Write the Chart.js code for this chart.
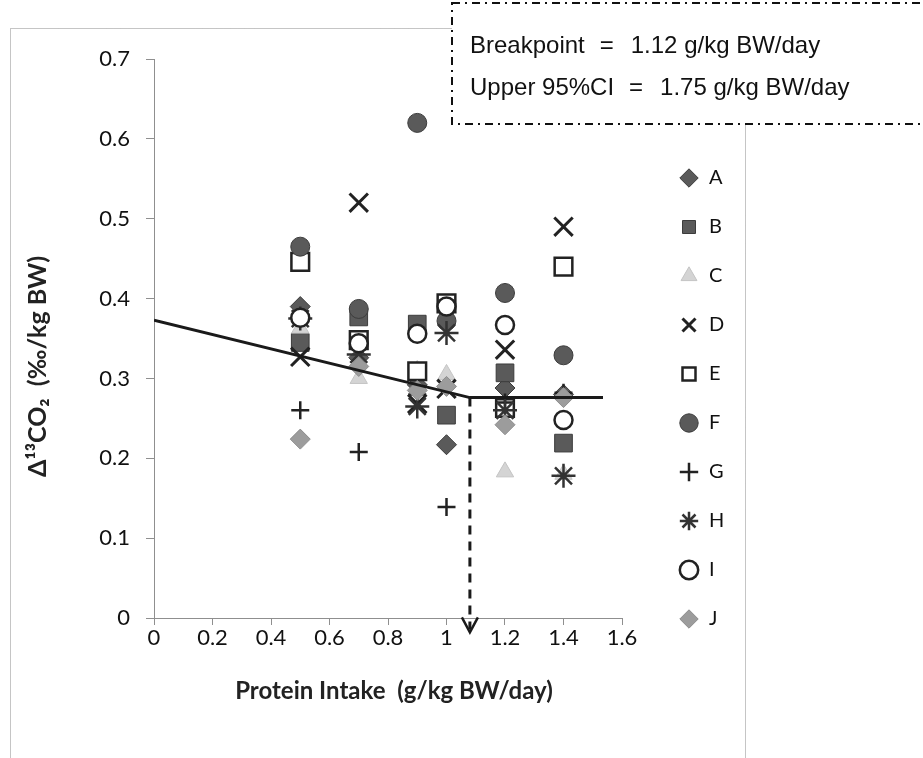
<!DOCTYPE html>
<html>
<head>
<meta charset="utf-8">
<script src="https://cdn.jsdelivr.net/npm/chart.js@4.4.0/dist/chart.umd.min.js"></script>
<style>
  html, body { margin: 0; padding: 0; background: #fff; }
  #wrap { position: relative; width: 923px; height: 758px; }
</style>
</head>
<body>
<div id="wrap"><canvas id="co2Chart"></canvas></div>
<script>
// protein intake levels (g/kg BW/day)
const intake = [0.5, 0.7, 0.9, 1.0, 1.2, 1.4];

// delta 13CO2 per subject
const subjA = [0.390, 0.326, 0.292, 0.217, 0.288, 0.280];
const subjB = [0.345, 0.377, 0.368, 0.254, 0.307, 0.219];
const subjC = [0.363, 0.300, 0.310, 0.305, 0.183, 0.180];
const subjD = [0.327, 0.520, 0.268, 0.287, 0.336, 0.490];
const subjE = [0.446, 0.348, 0.309, 0.394, 0.263, 0.440];
const subjF = [0.465, 0.387, 0.620, 0.372, 0.407, 0.329];
const subjG = [0.260, 0.208, 0.280, 0.139, 0.270, 0.282];
const subjH = [0.375, 0.330, 0.265, 0.357, 0.260, 0.178];
const subjI = [0.376, 0.344, 0.356, 0.390, 0.367, 0.248];
const subjJ = [0.224, 0.315, 0.285, 0.290, 0.242, 0.276];

const subjNames = ['A', 'B', 'C', 'D', 'E', 'F', 'G', 'H', 'I', 'J'];
const subjValues = [subjA, subjB, subjC, subjD, subjE, subjF, subjG, subjH, subjI, subjJ];

// broken-line fit
const fitX = [0, 1.08, 1.535];
const fitY = [0.373, 0.276, 0.276];
const breakX = 1.08;
const arrowTipY = -0.018;

const xTickLabels = ['0', '0.2', '0.4', '0.6', '0.8', '1', '1.2', '1.4', '1.6'];
const yTickLabels = ['0', '0.1', '0.2', '0.3', '0.4', '0.5', '0.6', '0.7'];

const noteLabels = ['Breakpoint', 'Upper 95%CI'];
const noteValues = ['1.12 g/kg BW/day', '1.75 g/kg BW/day'];

// marker look for each subject
const dark = '#5a5a5a', darkEdge = '#3c3c3c';
const markers = [
    {pointStyle: 'rectRot', pointRadius: 10, backgroundColor: dark, borderColor: darkEdge, borderWidth: 1},
    {pointStyle: 'rect', pointRadius: 12.5, backgroundColor: dark, borderColor: darkEdge, borderWidth: 1},
    {pointStyle: 'triangle', pointRadius: 10, backgroundColor: '#d4d4d4', borderColor: '#c4c4c4', borderWidth: 1},
    {pointStyle: 'crossRot', pointRadius: 13, backgroundColor: '#222', borderColor: '#222', borderWidth: 3},
    {pointStyle: 'rect', pointRadius: 12.5, backgroundColor: '#fff', borderColor: '#222', borderWidth: 2.5},
    {pointStyle: 'circle', pointRadius: 9.5, backgroundColor: dark, borderColor: darkEdge, borderWidth: 1},
    {pointStyle: 'cross', pointRadius: 9, backgroundColor: '#222', borderColor: '#222', borderWidth: 2.5},
    {pointStyle: 'star', pointRadius: 12, backgroundColor: '#333', borderColor: '#333', borderWidth: 2.5},
    {pointStyle: 'circle', pointRadius: 9, backgroundColor: '#fff', borderColor: '#222', borderWidth: 2.5},
    {pointStyle: 'rectRot', pointRadius: 10, backgroundColor: '#9c9c9c', borderColor: '#8c8c8c', borderWidth: 1}
];

const datasets = subjNames.map((name, i) => Object.assign({
    label: name,
    data: intake.map((x, j) => ({x: x, y: subjValues[i][j]})),
    pointHoverRadius: markers[i].pointRadius,
    order: 20 - i
}, markers[i]));

datasets.push({
    label: '',
    data: fitX.map((x, j) => ({x: x, y: fitY[j]})),
    showLine: true,
    borderColor: '#1a1a1a',
    borderWidth: 3,
    pointRadius: 0,
    order: 1
});
datasets.push({
    label: '',
    data: [{x: breakX, y: fitY[1]}, {x: breakX, y: arrowTipY + 0.004}],
    showLine: true,
    borderColor: '#1a1a1a',
    borderWidth: 3,
    borderDash: [9, 7],
    pointRadius: 0,
    clip: false,
    order: 0
});

const axisGrey = '#8f8f8f';
const tickFont = {family: 'Lato', size: 22};

const framePlugin = {
    id: 'frame',
    beforeLayout(chart) {
        // wide legend column so the plot ends where the original does
        const lg = chart.legend;
        if (lg && !lg._wide) {
            const fit = lg.fit;
            lg.fit = function() { fit.call(this); this.width = 301; };
            lg._wide = true;
        }
    },
    afterLayout(chart) {
        const lg = chart.legend;
        const pad = lg.options.labels.padding;
        const dx = 679 - (lg.left + pad);
        const dy = 178 - (lg.top + pad + 10);
        lg.left += dx; lg.right += dx;
        lg.top += dy; lg.bottom += dy;
    },
    beforeDraw(chart) {
        const ctx = chart.ctx;
        ctx.save();
        ctx.strokeStyle = '#8a8a8a';
        ctx.lineWidth = 1;
        ctx.setLineDash([1, 1]);
        ctx.strokeRect(10.5, 28.5, 735, 760);
        ctx.restore();
    },
    afterDatasetsDraw(chart) {
        const ctx = chart.ctx;
        const px = chart.scales.x.getPixelForValue(breakX);
        const py = chart.scales.y.getPixelForValue(arrowTipY);
        ctx.save();
        ctx.strokeStyle = '#1a1a1a';
        ctx.lineWidth = 2.5;
        ctx.beginPath();
        ctx.moveTo(px - 8, py - 15);
        ctx.lineTo(px, py);
        ctx.lineTo(px + 8, py - 15);
        ctx.stroke();
        ctx.restore();
    },
    afterDraw(chart) {
        const ctx = chart.ctx;
        ctx.save();
        ctx.fillStyle = '#fff';
        ctx.fillRect(452, 3, 480, 121);
        ctx.strokeStyle = '#111';
        ctx.lineWidth = 2;
        ctx.setLineDash([8, 5, 2, 5]);
        ctx.strokeRect(452, 3, 480, 121);
        ctx.setLineDash([]);
        ctx.fillStyle = '#111';
        ctx.font = '24px "Liberation Sans", Arial, sans-serif';
        ctx.textBaseline = 'middle';
        ctx.textAlign = 'left';
        const rows = [46, 88];
        noteLabels.forEach((lab, i) => {
            let x = 470;
            ctx.fillText(lab, x, rows[i]);
            x += ctx.measureText(lab).width + 15;
            ctx.fillText('=', x, rows[i]);
            x += ctx.measureText('=').width + 17;
            ctx.fillText(noteValues[i], x, rows[i]);
        });
        ctx.restore();
    }
};

new Chart(document.getElementById('co2Chart'), {
    type: 'scatter',
    data: {datasets: datasets},
    options: {
        responsive: true,
        maintainAspectRatio: false,
        animation: false,
        layout: {padding: {top: 59, left: 0, right: 0, bottom: 0}},
        scales: {
            x: {
                type: 'linear',
                min: 0,
                max: 1.6,
                afterFit: function(scale) { scale.height = 140; },
                ticks: {
                    stepSize: 0.2,
                    color: '#111',
                    font: tickFont,
                    padding: 0,
                    callback: function(val) { return xTickLabels[Math.round(val / 0.2)]; }
                },
                grid: {drawOnChartArea: false, drawTicks: true, tickLength: 7, color: axisGrey},
                border: {color: axisGrey, width: 1},
                title: {
                    display: true,
                    text: '\u2002Protein Intake  (g/kg BW/day)',
                    color: '#222',
                    font: {family: 'Lato', size: 24, weight: 'bold'},
                    padding: {top: 0, bottom: 52}
                }
            },
            y: {
                type: 'linear',
                min: 0,
                max: 0.7,
                afterFit: function(scale) { scale.width = 154; },
                ticks: {
                    stepSize: 0.1,
                    color: '#111',
                    font: tickFont,
                    padding: 16,
                    callback: function(val) { return yTickLabels[Math.round(val / 0.1)]; }
                },
                grid: {drawOnChartArea: false, drawTicks: true, tickLength: 8, color: axisGrey},
                border: {color: axisGrey, width: 1},
                title: {
                    display: true,
                    text: 'Δ¹³CO₂  (‰/kg BW)\u2002\u2002\u2002\u2002 ',
                    color: '#222',
                    font: {family: 'Lato', size: 25, weight: 'bold'},
                    padding: {top: 23, bottom: 0}
                }
            }
        },
        plugins: {
            legend: {
                position: 'right',
                align: 'start',
                labels: {
                    usePointStyle: true,
                    boxHeight: 13,
                    padding: 29,
                    color: '#111',
                    font: {family: 'Lato', size: 20},
                    filter: (item) => item.text !== '',
                    sort: (a, b) => a.datasetIndex - b.datasetIndex
                }
            },
            tooltip: {enabled: false}
        }
    },
    plugins: [framePlugin]
});
</script>
</body>
</html>
